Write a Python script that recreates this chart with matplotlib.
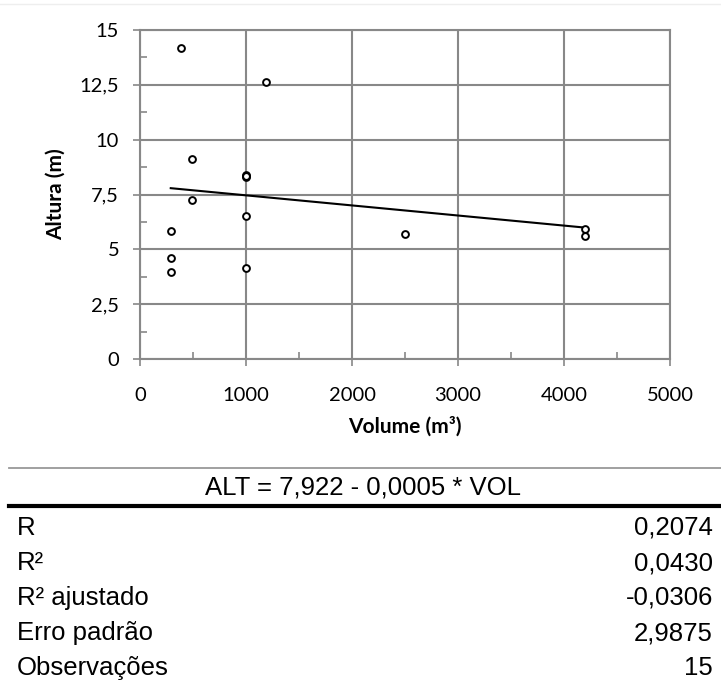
import numpy as np
import matplotlib
matplotlib.use('Agg')
import matplotlib.pyplot as plt
from matplotlib.lines import Line2D
from matplotlib.ticker import MultipleLocator, FuncFormatter

# volume (m3) vs altura (m), 15 observations (some overlap at 1000)
volume = [390, 1190, 490, 1000, 1000, 490, 1000, 290, 2500, 290, 290, 1000, 4200, 4200, 1000]
altura = [14.18, 12.64, 9.1, 8.38, 8.3, 7.23, 6.5, 5.85, 5.7, 4.62, 3.97, 4.14, 5.92, 5.6, 8.33]

# trend line as drawn in the chart
trend_intercept = 7.922
trend_slope = -0.00046

stat_names = ['R', 'R²', 'R² ajustado', 'Erro padrão', 'Observações']
stat_values = ['0,2074', '0,0430', '-0,0306', '2,9875', '15']
equation = 'ALT = 7,922 - 0,0005 * VOL'

volume = np.array(volume)
altura = np.array(altura)

fig = plt.figure(figsize=(7.21, 6.85), dpi=100)
ax = fig.add_axes([140/721, 1-359/685, 530/721, 329/685])

grid_col = '#888888'
ax.scatter(volume, altura, s=24, facecolors='white', edgecolors='black', linewidths=1.4, zorder=3)

xs = np.array([volume.min(), volume.max()])
ax.plot(xs, trend_intercept + trend_slope * xs, color='black', lw=1.5, zorder=2)

ax.set_xlim(0, 5000)
ax.set_ylim(0, 15)
ax.xaxis.set_major_locator(MultipleLocator(1000))
ax.xaxis.set_minor_locator(MultipleLocator(500))
ax.yaxis.set_major_locator(MultipleLocator(2.5))
ax.yaxis.set_minor_locator(MultipleLocator(1.25))
ax.yaxis.set_major_formatter(FuncFormatter(lambda v, p: ('%g' % v).replace('.', ',')))
ax.grid(True, which='major', color=grid_col, lw=1.5)
ax.set_axisbelow(True)
for s in ax.spines.values():
    s.set_color(grid_col)
    s.set_linewidth(1.5)

ax.tick_params(which='major', direction='out', length=5, width=1.2, color=grid_col,
               labelsize=14.5, pad=10)
ax.tick_params(axis='x', which='major', pad=15)
ax.tick_params(which='minor', direction='in', length=5, width=1.2, color=grid_col)
for lab in ax.get_xticklabels() + ax.get_yticklabels():
    lab.set_family('Lato')

ax.set_ylabel('Altura (m)', fontsize=15, fontweight='bold', family='Lato', labelpad=10)
ax.set_xlabel('Volume (m³)', fontsize=15, fontweight='bold', family='Lato', labelpad=9)

# faint border line at top
fig.add_artist(Line2D([0, 1], [1-4/685, 1-4/685], color='#eeeeee', lw=1))

# statistics table
fig.add_artist(Line2D([9/721, 1], [1-468/685, 1-468/685], color='#999999', lw=1.3))
fig.add_artist(Line2D([9/721, 1], [1-506/685, 1-506/685], color='black', lw=3))
fig.text(363/721, 1-487/685, equation, ha='center', va='center', fontsize=18.5,
         family='Liberation Sans')
for i, (nm, val) in enumerate(zip(stat_names, stat_values)):
    y = 1 - (528 + i * 35) / 685
    fig.text(17/721, y, nm, ha='left', va='center', fontsize=18.5, family='Liberation Sans')
    fig.text(713/721, y, val, ha='right', va='center', fontsize=18.5, family='Liberation Sans')

fig.savefig('out.png', dpi=100)
